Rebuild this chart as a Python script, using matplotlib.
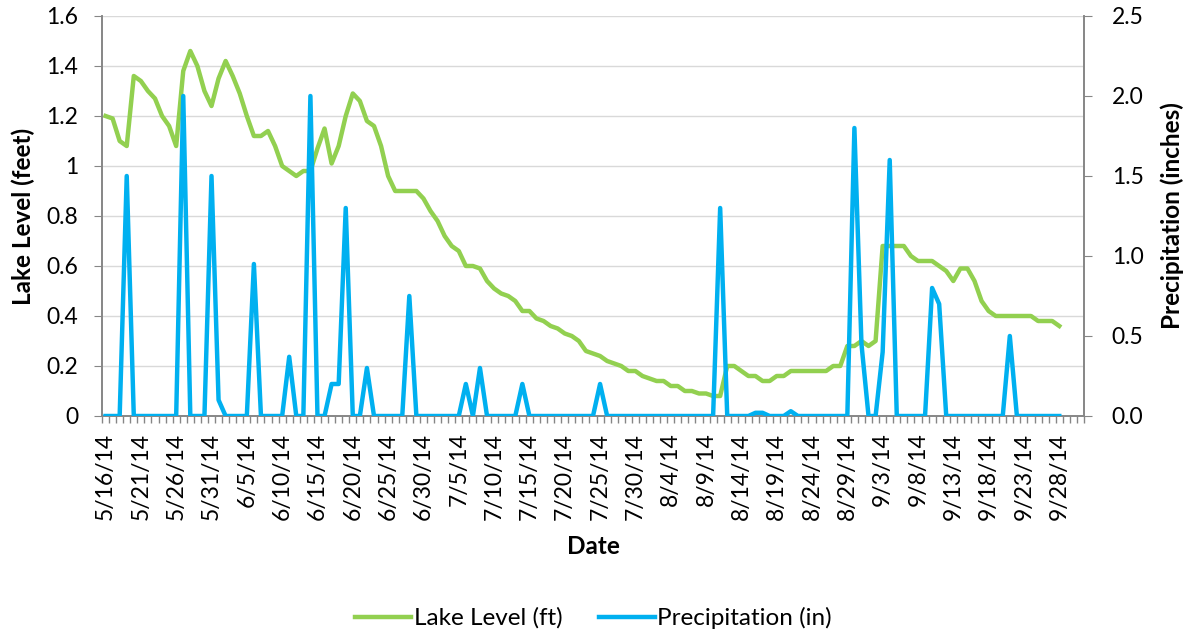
import numpy as np
import pandas as pd
from matplotlib import pyplot as plt

plt.rcParams['font.family'] = ['Lato', 'DejaVu Sans']

start_date = '2014-05-16'

# lake level (ft), one value per day from 5/16/14
lake_level = [
    1.20, 1.19, 1.10, 1.08, 1.36, 1.34, 1.30, 1.27, 1.20, 1.16,
    1.08, 1.38, 1.46, 1.40, 1.30, 1.24, 1.35, 1.42, 1.36, 1.29,
    1.20, 1.12, 1.12, 1.14, 1.08, 1.00, 0.98, 0.96, 0.98, 0.98,
    1.07, 1.15, 1.01, 1.08, 1.20, 1.29, 1.26, 1.18, 1.16, 1.08,
    0.96, 0.90, 0.90, 0.90, 0.90, 0.87, 0.82, 0.78, 0.72, 0.68,
    0.66, 0.60, 0.60, 0.59, 0.54, 0.51, 0.49, 0.48, 0.46, 0.42,
    0.42, 0.39, 0.38, 0.36, 0.35, 0.33, 0.32, 0.30, 0.26, 0.25,
    0.24, 0.22, 0.21, 0.20, 0.18, 0.18, 0.16, 0.15, 0.14, 0.14,
    0.12, 0.12, 0.10, 0.10, 0.09, 0.09, 0.08, 0.08, 0.20, 0.20,
    0.18, 0.16, 0.16, 0.14, 0.14, 0.16, 0.16, 0.18, 0.18, 0.18,
    0.18, 0.18, 0.18, 0.20, 0.20, 0.28, 0.28, 0.30, 0.28, 0.30,
    0.68, 0.68, 0.68, 0.68, 0.64, 0.62, 0.62, 0.62, 0.60, 0.58,
    0.54, 0.59, 0.59, 0.54, 0.46, 0.42, 0.40, 0.40, 0.40, 0.40,
    0.40, 0.40, 0.38, 0.38, 0.38, 0.36,
]

# precipitation (in)
precip = [
    0, 0, 0, 1.5, 0, 0, 0, 0, 0, 0,
    0, 2.0, 0, 0, 0, 1.5, 0.1, 0, 0, 0,
    0, 0.95, 0, 0, 0, 0, 0.37, 0, 0, 2.0,
    0, 0, 0.2, 0.2, 1.3, 0, 0, 0.3, 0, 0,
    0, 0, 0, 0.75, 0, 0, 0, 0, 0, 0,
    0, 0.2, 0, 0.3, 0, 0, 0, 0, 0, 0.2,
    0, 0, 0, 0, 0, 0, 0, 0, 0, 0,
    0.2, 0, 0, 0, 0, 0, 0, 0, 0, 0,
    0, 0, 0, 0, 0, 0, 0, 1.3, 0, 0,
    0, 0, 0.02, 0.02, 0, 0, 0, 0.03, 0, 0,
    0, 0, 0, 0, 0, 0, 1.8, 0.45, 0, 0,
    0.4, 1.6, 0, 0, 0, 0, 0, 0.8, 0.7, 0,
    0, 0, 0, 0, 0, 0, 0, 0, 0.5, 0,
    0, 0, 0, 0, 0, 0,
]

dates = pd.date_range(start_date, periods=len(lake_level), freq='D')
date_labels = [f"{d.month}/{d.day}/14" for d in dates]

green = '#92D050'
blue = '#00B0F0'
axis_gray = '#868686'
tick_fs = 16.5
label_fs = 17.5

fig = plt.figure(figsize=(11.87, 6.36), dpi=100)
ax = fig.add_axes([102 / 1187, 1 - 416 / 636, 982 / 1187, 400 / 636])
ax2 = ax.twinx()

x = np.arange(len(lake_level))
ax.plot(x, lake_level, color=green, lw=3.2, solid_joinstyle='round',
        label='Lake Level (ft)', zorder=3)
ax2.plot(x, precip, color=blue, lw=3.2, solid_joinstyle='round',
         label='Precipitation (in)', zorder=3)

ax.set_xlim(-0.5, 138.5)
ax.set_ylim(0, 1.6)
ax2.set_ylim(0, 2.5)

ax.set_yticks(np.arange(0, 1.61, 0.2))
ax.set_yticklabels(['0', '0.2', '0.4', '0.6', '0.8', '1', '1.2', '1.4', '1.6'])
ax2.set_yticks(np.arange(0, 2.51, 0.5))
ax2.set_yticklabels([f"{v:.1f}" for v in np.arange(0, 2.51, 0.5)])

ax.set_xticks(x[::5])
ax.set_xticklabels(date_labels[::5], rotation=90)
ax.set_xticks(np.arange(-0.5, 139, 1), minor=True)
ax.tick_params(axis='x', which='major', length=0, pad=12, labelsize=tick_fs)
ax.tick_params(axis='x', which='minor', length=5, color=axis_gray, width=1)
ax.tick_params(axis='y', length=6, color=axis_gray, labelsize=tick_fs, pad=11)
ax2.tick_params(axis='y', length=6, color=axis_gray, labelsize=tick_fs, pad=14)

ax.grid(axis='y', color='#d9d9d9', lw=1)
ax.set_axisbelow(True)

for a in (ax, ax2):
    a.spines['top'].set_visible(False)
    for s in ('left', 'right', 'bottom'):
        a.spines[s].set_color(axis_gray)
        a.spines[s].set_linewidth(1.2)

ax.set_xlabel('Date', fontsize=label_fs, fontweight='bold', labelpad=11)
ax.set_ylabel('Lake Level (feet)', fontsize=label_fs, fontweight='bold', labelpad=8)
ax2.set_ylabel('Precipitation (inches)', fontsize=label_fs, fontweight='bold', labelpad=12)

h1, l1 = ax.get_legend_handles_labels()
h2, l2 = ax2.get_legend_handles_labels()
fig.legend(h1 + h2, l1 + l2, loc='center', bbox_to_anchor=(0.5, 1 - 618 / 636),
           ncol=2, frameon=False, fontsize=label_fs, handlelength=2.3,
           columnspacing=1.5, handletextpad=0.1)

fig.savefig('out.png', dpi=100)
